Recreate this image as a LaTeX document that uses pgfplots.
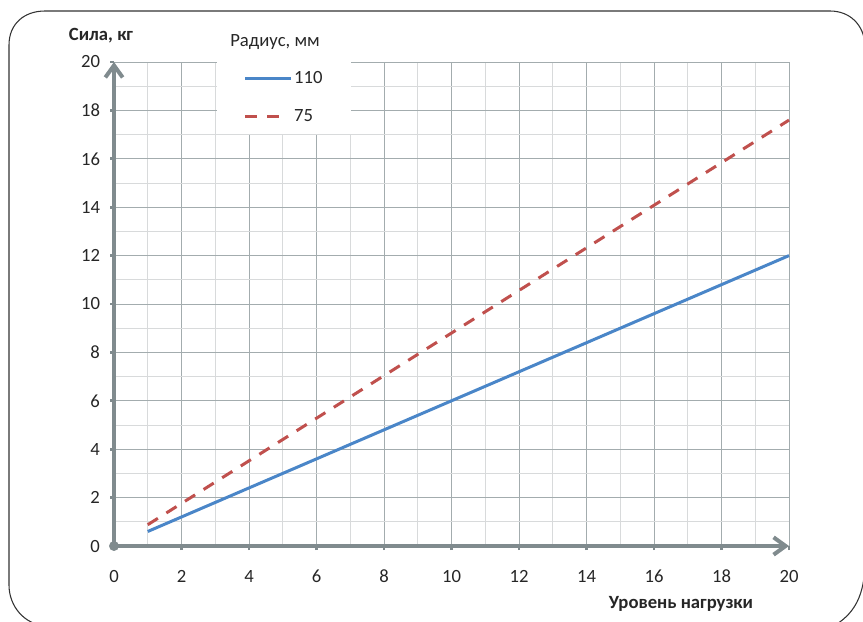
\documentclass[border=0pt]{standalone}
\usepackage{fontspec}
\setmainfont{Carlito}
\usepackage{pgfplots}
\pgfplotsset{compat=1.18}
\usetikzlibrary{arrows.meta}

\definecolor{axgray}{HTML}{808B8E}
\definecolor{majgrid}{HTML}{A3ACAE}
\definecolor{mingrid}{HTML}{D8DADB}
\definecolor{serblue}{HTML}{4A86C8}
\definecolor{serred}{HTML}{C0504D}
\definecolor{txt}{HTML}{262626}

\newcommand{\chfont}{\fontsize{14}{16}\selectfont}

% shorter legend sample for the dashed series
\pgfplotsset{shortleg/.style={legend image code/.code={\draw[##1] (0pt,0pt) -- (26pt,0pt);}}}

\begin{document}
\begin{tikzpicture}
% page = 863 x 621 px, 1 px = 0.75pt, y runs down
\useasboundingbox (0,0) rectangle (647.25pt,-465.75pt);

\begin{axis}[
    at={(85.5pt,-409.5pt)}, anchor=south west,
    scale only axis,
    width=506.25pt, height=363pt,
    xmin=0, xmax=20, ymin=0, ymax=20,
    axis lines=left,
    axis line style={axgray, line width=3pt, -{Straight Barb[length=9pt,width=13pt]}},
    xtick={0,2,...,20}, ytick={0,2,...,20},
    minor xtick={1,3,...,19}, minor ytick={1,3,...,19},
    grid=both,
    major grid style={majgrid, line width=0.75pt},
    minor grid style={mingrid, line width=0.75pt},
    tick align=outside,
    major tick length=3pt, minor tick length=0pt,
    major tick style={axgray, line width=2pt},
    ticklabel style={font=\chfont, text=txt},
    /pgf/number format/assume math mode=true,
    xticklabel style={anchor=center, yshift=-19.5pt},
    yticklabel style={anchor=east, xshift=-4pt},
    clip=false,
    legend style={at={(axis cs:3.05,20.03)}, anchor=north west,
        draw=none, fill=white, inner xsep=20pt, inner ysep=6pt,
        row sep=15pt, font=\chfont, text=txt,
        nodes={inner sep=1.5pt}},
    legend cell align=left,
    legend image code/.code={\draw[#1] (0pt,0pt) -- (34pt,0pt);},
]

% radius 110 mm
\addplot[serblue, line width=2.25pt]
    coordinates {
    (1,0.6)(2,1.2)(3,1.8)(4,2.4)(5,3.0)(6,3.6)(7,4.2)(8,4.8)(9,5.4)(10,6.0)
    (11,6.6)(12,7.2)(13,7.8)(14,8.4)(15,9.0)(16,9.6)(17,10.2)(18,10.8)(19,11.4)(20,12.0)
    };
\addlegendentry{110}

% radius 75 mm
\addplot[serred, line width=2.25pt, dash pattern=on 9pt off 7.5pt, shortleg]
    coordinates {
    (1,0.88)(2,1.76)(3,2.64)(4,3.52)(5,4.4)(6,5.28)(7,6.16)(8,7.04)(9,7.92)(10,8.8)
    (11,9.68)(12,10.56)(13,11.44)(14,12.32)(15,13.2)(16,14.08)(17,14.96)(18,15.84)(19,16.72)(20,17.6)
    };
\addlegendentry{75}

% dot at the origin
\addplot[only marks, mark=*, mark size=3.5pt, axgray, forget plot]
    coordinates {(0,0)};

\end{axis}

\begin{scope}[x=0.75pt, y=-0.75pt]
  \begin{scope}
    \clip (0,0) rectangle (863,621);
    \draw[line width=0.8pt, black!80]
      (9,45) .. controls (9,24) and (24,11) .. (45,11) -- (830,11)
      .. controls (850,11) and (864,25) .. (865,45) -- (865,560)
      .. controls (865,595) and (855,615) .. (830,628) -- (45,626)
      .. controls (24,624) and (9,606) .. (9,585) -- cycle;
  \end{scope}
  \node[font=\chfont\bfseries, text=txt, anchor=base] at (101,40) {Сила, кг};
  \node[font=\chfont, text=txt, anchor=base] at (275,46) {Радиус, мм};
  \node[font=\chfont\bfseries, text=txt, anchor=base] at (681,608) {Уровень нагрузки};
\end{scope}
\end{tikzpicture}
\end{document}
